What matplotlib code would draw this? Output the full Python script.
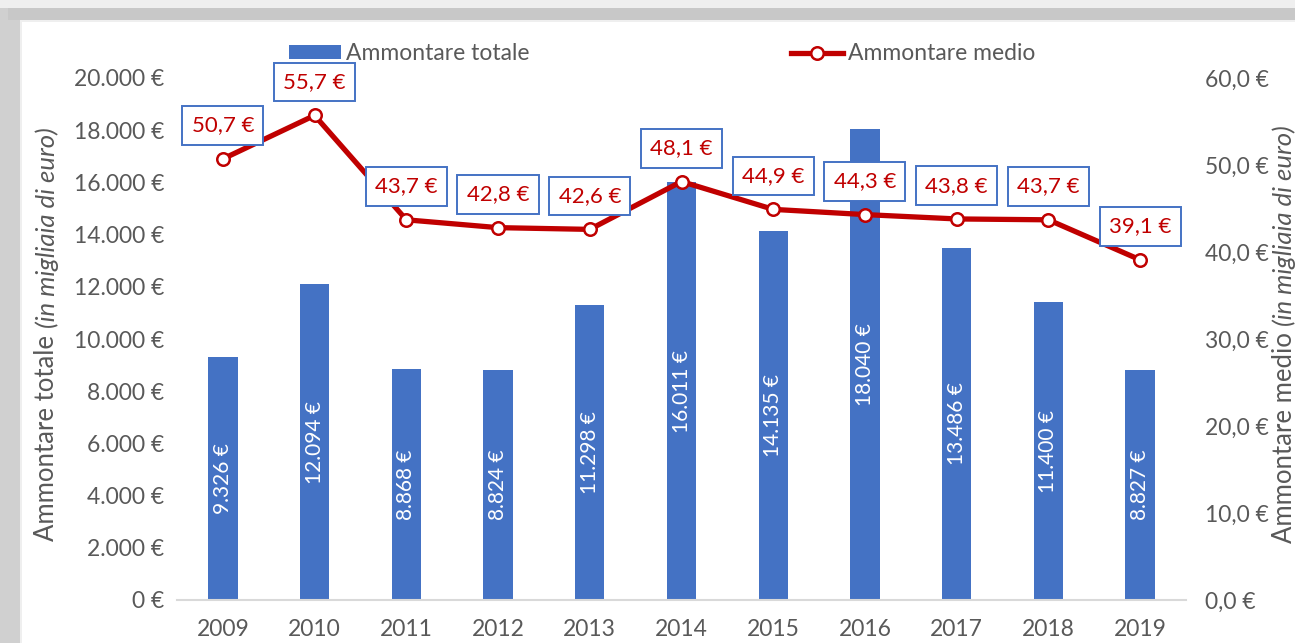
import numpy as np
import matplotlib
matplotlib.use("Agg")
import matplotlib.pyplot as plt
from matplotlib.patches import Rectangle
from matplotlib.lines import Line2D
from matplotlib.ticker import FuncFormatter

years = ["2009", "2010", "2011", "2012", "2013", "2014", "2015", "2016", "2017", "2018", "2019"]
totale = [9326, 12094, 8868, 8824, 11298, 16011, 14135, 18040, 13486, 11400, 8827]
medio = [50.7, 55.7, 43.7, 42.8, 42.6, 48.1, 44.9, 44.3, 43.8, 43.7, 39.1]

blue = '#4472C4'
red = '#C00000'
gray = '#595959'

plt.rcParams['font.family'] = ['Lato', 'DejaVu Sans']

fig = plt.figure(figsize=(12.95, 6.43), dpi=100)

# shadow frame around the chart (top and left)
fig.patches.append(Rectangle((0, 0), 1, 1, transform=fig.transFigure,
                             facecolor='#EFEFEF', edgecolor='none', zorder=-10))
fig.patches.append(Rectangle((0, 0), 20 / 1295, 1 - 8 / 643, transform=fig.transFigure,
                             facecolor='#D0D0D0', edgecolor='none', zorder=-9))
fig.patches.append(Rectangle((8 / 1295, 1 - 20 / 643), 1, 12 / 643, transform=fig.transFigure,
                             facecolor='#C8C8C8', edgecolor='none', zorder=-9))
fig.patches.append(Rectangle((22 / 1295, 0), 1, 1 - 22 / 643, transform=fig.transFigure,
                             facecolor='white', edgecolor='none', zorder=-8))

ax = fig.add_axes([177 / 1295, 43 / 643, 1009 / 1295, 522 / 643])
ax.patch.set_alpha(0)
x = np.arange(len(years))

bars = ax.bar(x, totale, width=0.32, color=blue, zorder=2)
for xi, v in zip(x, totale):
    txt = f"{v:,}".replace(",", ".") + " €"
    ax.text(xi, v / 2, txt, rotation=90, ha='center', va='center',
            color='white', fontsize=15, zorder=3)

ax.set_xlim(-0.5, len(years) - 0.5)
ax.set_ylim(0, 20000)
ax.set_yticks(np.arange(0, 20001, 2000))
ax.yaxis.set_major_formatter(FuncFormatter(lambda v, p: f"{int(v):,}".replace(",", ".") + " €"))
ax.set_xticks(x)
ax.set_xticklabels(years)
ax.tick_params(axis='both', length=0, colors=gray, labelsize=16.5)
ax.tick_params(axis='x', pad=14)
ax.tick_params(axis='y', pad=9)
for s in ['top', 'right', 'left']:
    ax.spines[s].set_visible(False)
ax.spines['bottom'].set_color('#D9D9D9')
ax.spines['bottom'].set_linewidth(1.5)

ax2 = ax.twinx()
ax2.set_ylim(0, 60)
ax2.set_yticks(np.arange(0, 61, 10))
ax2.yaxis.set_major_formatter(FuncFormatter(lambda v, p: f"{v:.1f}".replace(".", ",") + " €"))
ax2.tick_params(axis='y', length=0, colors=gray, labelsize=16.5, pad=14)
for s in ax2.spines.values():
    s.set_visible(False)

ax2.plot(x, medio, color=red, linewidth=3.8, marker='o', markersize=9,
         markerfacecolor='white', markeredgecolor=red, markeredgewidth=1.8, zorder=4)
for xi, v in zip(x, medio):
    ax2.annotate(f"{v:.1f}".replace(".", ",") + " €", (xi, v), xytext=(0, 24),
                 textcoords='offset points', ha='center', va='center',
                 color=red, fontsize=16, zorder=5,
                 bbox=dict(boxstyle='square,pad=0.42', facecolor='white',
                           edgecolor=blue, linewidth=1.4))

# legend
handles = [Rectangle((0, 0), 1, 1, facecolor=blue, edgecolor='none'),
           Line2D([0], [0], color=red, linewidth=3.8, marker='o', markersize=9,
                  markerfacecolor='white', markeredgecolor=red, markeredgewidth=1.8)]
fig.legend(handles, ["Ammontare totale", "Ammontare medio"], ncol=2,
           loc='center', bbox_to_anchor=(662 / 1295, 1 - 54 / 643), frameon=False,
           fontsize=16.5, labelcolor=gray, handlelength=2.3, handleheight=0.55,
           handletextpad=0.2, columnspacing=11.4)

# axis titles with italic part
fig.canvas.draw()
renderer = fig.canvas.get_renderer()


def two_part_label(xpos, ycenter, normal, italic):
    t1 = fig.text(xpos, 0, normal, rotation=90, ha='center', va='bottom',
                  color=gray, fontsize=18.5)
    t2 = fig.text(xpos, 0, italic, rotation=90, ha='center', va='bottom',
                  color=gray, fontsize=18.5, style='italic')
    h1 = t1.get_window_extent(renderer).height / fig.bbox.height
    h2 = t2.get_window_extent(renderer).height / fig.bbox.height
    y0 = ycenter - (h1 + h2) / 2
    t1.set_y(y0)
    t2.set_y(y0 + h1)


two_part_label(47 / 1295, 1 - 334 / 643, "Ammontare totale ", "(in migliaia di euro)")
two_part_label(1284 / 1295, 1 - 334 / 643, "Ammontare medio ", "(in migliaia di euro)")

fig.savefig("out.png", dpi=100)
